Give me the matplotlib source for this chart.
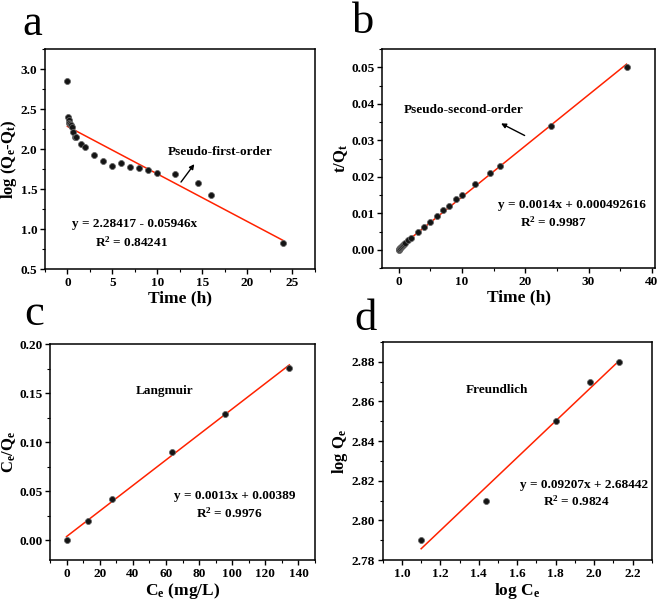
import numpy as np
import matplotlib
matplotlib.use("Agg")
import matplotlib.pyplot as plt
from matplotlib.ticker import MultipleLocator

plt.rcParams['font.family'] = ['Liberation Serif', 'DejaVu Serif']
plt.rcParams['font.weight'] = 'bold'
plt.rcParams['mathtext.default'] = 'regular'

# a: pseudo-first-order
t_a = [0, 0.08, 0.12, 0.18, 0.26, 0.44, 0.55, 0.67, 0.85, 1.0, 1.5, 2, 3, 4, 5, 6, 7, 8, 9, 10, 12, 14.5, 16, 24]
logq_a = [2.85, 2.40, 2.36, 2.33, 2.31, 2.30, 2.28, 2.22, 2.15, 2.15, 2.07, 2.03, 1.93, 1.85, 1.79, 1.82,
          1.78, 1.76, 1.74, 1.70, 1.69, 1.58, 1.42, 0.83]
fit_a = (2.28417, -0.05946)

# b: pseudo-second-order
t_b = [0, 0.08, 0.17, 0.25, 0.33, 0.5, 0.67, 0.83, 1.0, 1.5, 2, 3, 4, 5, 6, 7, 8, 9, 10, 12, 14.5, 16, 24, 36]
tq_b = [0.0000, 0.0002, 0.0004, 0.0005, 0.0007, 0.0010, 0.0013, 0.0016, 0.0019, 0.0027, 0.0034, 0.0049,
        0.0062, 0.0077, 0.0093, 0.0110, 0.0121, 0.0140, 0.0151, 0.0181, 0.0210, 0.0230, 0.0340, 0.0500]
fit_b = (0.000492616, 0.0014)

# c: Langmuir
ce_c = [0, 12.7, 27.3, 63.5, 95.5, 134.5]
ceqe_c = [0.000, 0.020, 0.042, 0.090, 0.129, 0.176]
fit_c = (0.00389, 0.0013)

# d: Freundlich
logce_d = [1.10, 1.44, 1.80, 1.98, 2.13]
logqe_d = [2.79, 2.81, 2.85, 2.87, 2.88]
fit_d = (2.68442, 0.09207)

RED = '#ff2200'

fig = plt.figure(figsize=(6.61, 6.04), dpi=100)
axa = fig.add_axes([0.068, 0.5546, 0.408, 0.364])
axb = fig.add_axes([0.578, 0.556, 0.413, 0.3626])
axc = fig.add_axes([0.0756, 0.0728, 0.401, 0.3576])
axd = fig.add_axes([0.579, 0.0728, 0.407, 0.361])


def dots(ax, x, y):
    ax.plot(x, y, 'o', ms=4.3, mfc='#141414', mec='#666666', mew=0.6, zorder=3)


def fitline(ax, x0, x1, fit):
    xs = np.array([x0, x1])
    ax.plot(xs, fit[0] + fit[1] * xs, '-', color=RED, lw=1.1, zorder=2)


def style(ax, xmaj, ymaj):
    ax.xaxis.set_major_locator(MultipleLocator(xmaj))
    ax.xaxis.set_minor_locator(MultipleLocator(xmaj / 2))
    ax.yaxis.set_major_locator(MultipleLocator(ymaj))
    ax.yaxis.set_minor_locator(MultipleLocator(ymaj / 2))
    ax.tick_params(which='major', direction='out', length=3.5, width=1, labelsize=9.5, pad=2)
    ax.tick_params(which='minor', direction='out', length=2, width=0.8)
    for s in ax.spines.values():
        s.set_linewidth(1.1)
    for lab in ax.get_xticklabels() + ax.get_yticklabels():
        lab.set_fontweight('bold')


# a
dots(axa, t_a, logq_a)
fitline(axa, 0, 24, fit_a)
axa.set_xlim(-2.5, 27.5)
axa.set_ylim(0.5, 3.25)
style(axa, 5, 0.5)
axa.set_xlabel('Time (h)', fontsize=12.5, fontweight='bold', labelpad=1)
axa.set_ylabel('log (Q$_e$-Q$_t$)', fontsize=12, fontweight='bold', labelpad=1)
axa.annotate('', xy=(14.3, 1.84), xytext=(12.45, 1.56),
             arrowprops=dict(arrowstyle='-|>', color='black', lw=1, mutation_scale=7))
axa.text(17.0, 1.966, 'Pseudo-first-order', ha='center', va='center', fontsize=9.5, fontweight='bold')
axa.text(7.46, 1.06, 'y = 2.28417 - 0.05946x', ha='center', va='center', fontsize=9.5, fontweight='bold')
axa.text(7.1, 0.84, 'R$^2$ = 0.84241', ha='center', va='center', fontsize=9.5, fontweight='bold')

# b
dots(axb, t_b, tq_b)
fitline(axb, 0, 36, fit_b)
axb.set_xlim(-2.6, 40.5)
axb.set_ylim(-0.005, 0.055)
style(axb, 10, 0.01)
axb.set_xlabel('Time (h)', fontsize=12.5, fontweight='bold', labelpad=1)
axb.set_ylabel('t/Q$_t$', fontsize=12, fontweight='bold', labelpad=1)
axb.annotate('', xy=(15.8, 0.035), xytext=(20.3, 0.031),
             arrowprops=dict(arrowstyle='-|>', color='black', lw=1, mutation_scale=7))
axb.text(10.3, 0.0382, 'Pseudo-second-order', ha='center', va='center', fontsize=9.5, fontweight='bold')
axb.text(27.3, 0.0124, 'y = 0.0014x + 0.000492616', ha='center', va='center', fontsize=9.5, fontweight='bold')
axb.text(24.4, 0.0076, 'R$^2$ = 0.9987', ha='center', va='center', fontsize=9.5, fontweight='bold')

# c
dots(axc, ce_c, ceqe_c)
fitline(axc, 0, 134.5, fit_c)
axc.set_xlim(-10, 150)
axc.set_ylim(-0.02, 0.2)
style(axc, 20, 0.05)
axc.set_xlabel('C$_e$ (mg/L)', fontsize=12.5, fontweight='bold', labelpad=1)
axc.set_ylabel('C$_e$/Q$_e$', fontsize=12, fontweight='bold', labelpad=1)
axc.text(59.4, 0.152, 'Langmuir', ha='center', va='center', fontsize=9.5, fontweight='bold')
axc.text(101.3, 0.0449, 'y = 0.0013x + 0.00389', ha='center', va='center', fontsize=9.5, fontweight='bold')
axc.text(98.4, 0.028, 'R$^2$ = 0.9976', ha='center', va='center', fontsize=9.5, fontweight='bold')

# d
dots(axd, logce_d, logqe_d)
fitline(axd, 1.10, 2.13, fit_d)
axd.set_xlim(0.9, 2.3)
axd.set_ylim(2.78, 2.89)
style(axd, 0.2, 0.02)
axd.set_xlabel('log C$_e$', fontsize=12.5, fontweight='bold', labelpad=1)
axd.set_ylabel('log Q$_e$', fontsize=12, fontweight='bold', labelpad=1)
axd.text(1.496, 2.8657, 'Freundlich', ha='center', va='center', fontsize=9.5, fontweight='bold')
axd.text(1.95, 2.818, 'y = 0.09207x + 2.68442', ha='center', va='center', fontsize=9.5, fontweight='bold')
axd.text(1.91, 2.8096, 'R$^2$ = 0.9824', ha='center', va='center', fontsize=9.5, fontweight='bold')

# panel letters (baseline positions in pixels)
for lab, (x, y) in zip('abcd', [(32, 35), (363, 33), (34, 325), (366, 330)]):
    fig.text(x / 661, 1 - y / 604, lab, ha='center', va='baseline', fontsize=32, fontweight='normal')

fig.savefig('out.png', dpi=100)
